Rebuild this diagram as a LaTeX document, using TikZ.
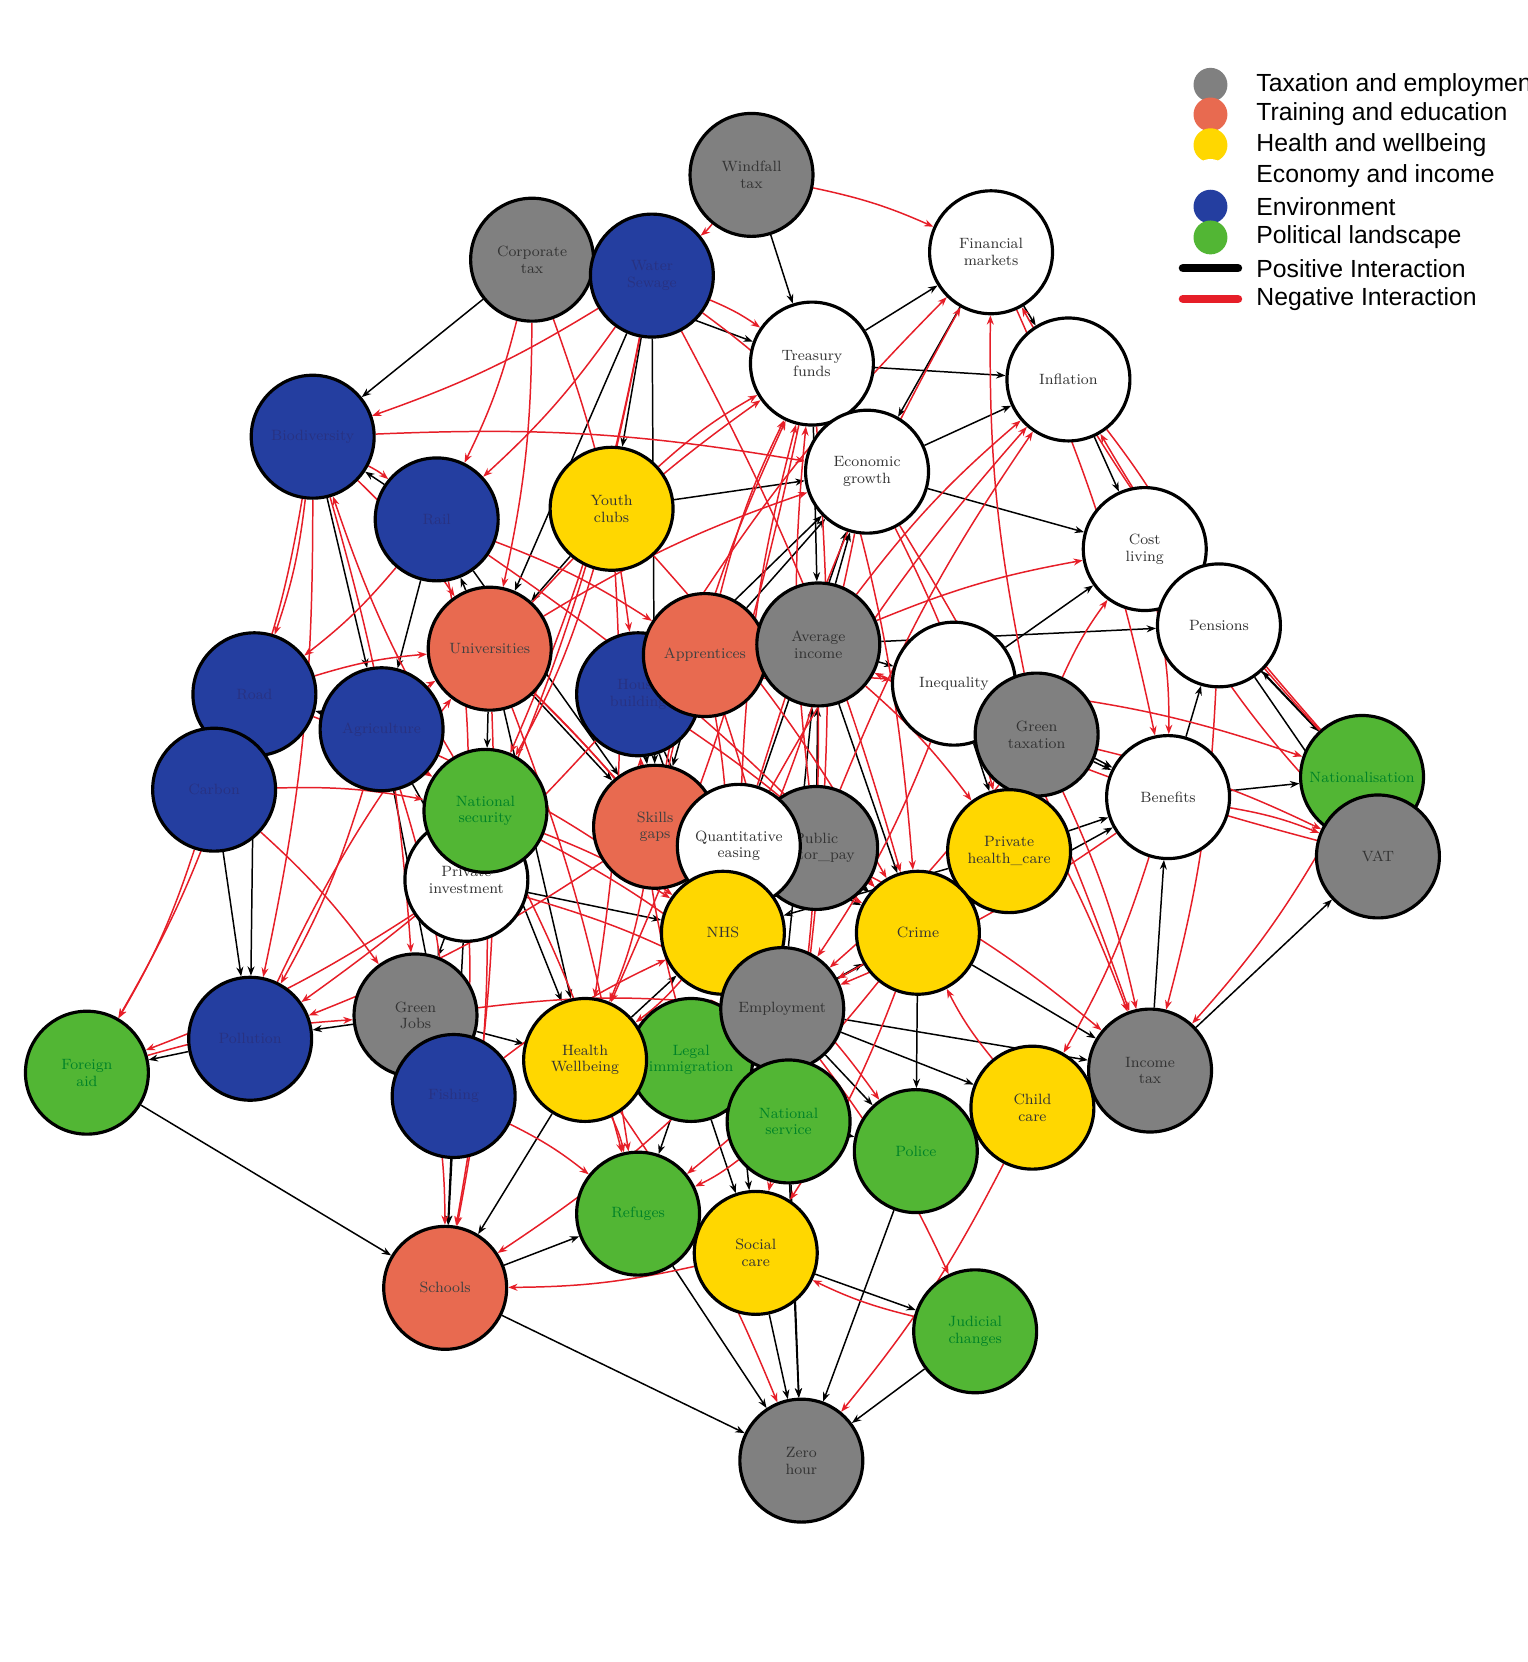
\documentclass[tikz,border=0pt]{standalone}
\usepackage{fontspec}
\setsansfont{Liberation Sans}
\usetikzlibrary{arrows.meta,backgrounds}
\definecolor{cgray}{RGB}{128,128,128}
\definecolor{csalmon}{RGB}{232,106,80}
\definecolor{cyellow}{RGB}{255,215,0}
\definecolor{cblue}{RGB}{36,62,160}
\definecolor{cgreen}{RGB}{82,182,52}
\definecolor{tblue}{RGB}{40,50,130}
\definecolor{tgreen}{RGB}{0,130,40}
\definecolor{cred}{RGB}{230,30,40}
\begin{document}
\begin{tikzpicture}[x=0.02cm,y=-0.02cm,
 nd/.style={circle,draw=black,line width=1.7pt,minimum size=2.32cm,inner sep=0pt,align=center,font=\fontsize{8}{9}\selectfont},
 tx/.style={nd,fill=cgray,text=black!80},
 tr/.style={nd,fill=csalmon,text=black!75},
 he/.style={nd,fill=cyellow,text=black!80},
 ec/.style={nd,fill=white,text=black!80},
 en/.style={nd,fill=cblue,text=tblue},
 po/.style={nd,fill=cgreen,text=tgreen},
 pe/.style={draw=black,line width=0.8pt,-{Stealth[length=5pt]}},
 ne/.style={draw=cred,line width=0.8pt,-{Stealth[length=5pt]}},
 lg/.style={font=\sffamily\fontsize{13.3}{14}\selectfont,anchor=west,inner sep=0pt},
 ld/.style={circle,minimum size=0.64cm,inner sep=0pt}]
\useasboundingbox (0,0) rectangle (1441,1568);
\clip (0,0) rectangle (1441,1568);
\node[tx] (wt) at (709,165) {Windfall\\tax};
\node[tx] (ct) at (502,245) {Corporate\\tax};
\node[en] (ws) at (615,260) {Water\\Sewage};
\node[ec] (fm) at (935,238) {Financial\\markets};
\node[ec] (tf) at (766,343) {Treasury\\funds};
\node[ec] (inf) at (1008,358) {Inflation};
\node[en] (bio) at (295,412) {Biodiversity};
\node[ec] (eg) at (818,445) {Economic\\growth};
\node[he] (yc) at (577,480) {Youth\\clubs};
\node[en] (rail) at (412,490) {Rail};
\node[ec] (cl) at (1080,518) {Cost\\living};
\node[ec] (pen) at (1150,590) {Pensions};
\node[tr] (uni) at (462,612) {Universities};
\node[en] (hb) at (602,655) {House\\building};
\node[tr] (app) at (665,618) {Apprentices};
\node[tx] (ai) at (772,608) {Average\\income};
\node[ec] (ineq) at (900,645) {Inequality};
\node[tx] (gt) at (978,693) {Green\\taxation};
\node[en] (road) at (240,655) {Road};
\node[en] (agr) at (360,688) {Agriculture};
\node[en] (carb) at (202,745) {Carbon};
\node[ec] (ben) at (1102,752) {Benefits};
\node[po] (nat) at (1285,733) {Nationalisation};
\node[tx] (vat) at (1300,808) {VAT};
\node[ec] (pi) at (440,830) {Private\\investment};
\node[po] (ns) at (458,765) {National\\security};
\node[tr] (sg) at (618,780) {Skills\\gaps};
\node[tx] (psp) at (770,800) {Public\\sector\_pay};
\node[ec] (qe) at (697,798) {Quantitative\\easing};
\node[he] (phc) at (952,803) {Private\\health\_care};
\node[he] (nhs) at (682,880) {NHS};
\node[he] (crime) at (866,880) {Crime};
\node[tx] (gj) at (392,958) {Green\\Jobs};
\node[en] (poll) at (236,980) {Pollution};
\node[po] (fa) at (82,1012) {Foreign\\aid};
\node[po] (li) at (652,1000) {Legal\\immigration};
\node[tx] (emp) at (738,952) {Employment};
\node[he] (hw) at (552,1000) {Health\\Wellbeing};
\node[en] (fish) at (428,1034) {Fishing};
\node[tx] (it) at (1085,1010) {Income\\tax};
\node[po] (nserv) at (744,1058) {National\\service};
\node[po] (pol) at (864,1086) {Police};
\node[he] (cc) at (974,1045) {Child\\care};
\node[po] (ref) at (602,1145) {Refuges};
\node[he] (sc) at (713,1182) {Social\\care};
\node[tr] (sch) at (420,1215) {Schools};
\node[po] (jc) at (920,1256) {Judicial\\changes};
\node[tx] (zh) at (756,1378) {Zero\\hour};
\begin{scope}[on background layer]
\foreach \a/\b in {wt/tf,ct/bio,tf/fm,tf/eg,fm/inf,inf/cl,cl/pen,eg/cl,eg/inf,tf/inf,ai/eg,ineq/cl,ai/ineq,ben/pen,ben/nat,it/vat,nat/pen,gt/ineq,emp/ai,emp/nhs,emp/crime,emp/cc,emp/it,emp/zh,sc/zh,ref/zh,nserv/zh,pol/zh,jc/zh,sch/zh,fish/sch,hw/sch,li/ref,hw/nhs,gj/poll,poll/fa,carb/road,agr/road,rail/bio,uni/rail,uni/sg,sg/nhs,qe/psp,qe/eg,psp/ai,pi/gj,ns/pi,yc/eg,yc/uni,ws/yc,ws/uni,hb/eg,app/ai,app/eg,crime/pol,phc/nhs,phc/ben,cc/it,it/ben,gt/ben,pol/cc,sc/jc,fish/gj,hw/li,li/emp,nserv/pol,gj/hw,agr/pi,carb/poll,bio/agr,rail/agr,road/poll,ineq/ben,pen/vat,cl/nat,fm/eg,tf/ai,ai/pen,emp/ben,crime/it,sc/ref,sch/ref,nhs/sc,pi/sch,fa/sch,ws/sg,ct/tf,rail/sg,hb/nhs,uni/hw,agr/fish,sg/emp,ns/hw,pi/nhs,hb/emp,qe/crime,psp/crime,nhs/nserv,emp/pol,li/sc,ineq/phc,gt/phc,ai/crime,sg/qe,hb/sg,uni/ns,app/sg}
  \draw[pe] (\a) -- (\b);
\foreach \a/\b in {wt/ws,wt/fm,ws/tf,ws/bio,ws/rail,ws/eg,ct/rail,ct/uni,bio/road,bio/carb,bio/poll,bio/uni,bio/gj,rail/road,rail/pi,rail/app,road/fa,carb/fa,carb/gj,agr/uni,agr/poll,agr/fish,uni/tf,uni/eg,uni/nhs,uni/sch,yc/tf,yc/crime,yc/hw,hb/ineq,hb/poll,hb/fm,app/tf,app/emp,ai/inf,ai/cl,ai/phc,ineq/nat,gt/it,gt/cl,gt/vat,gt/fm,ben/cc,nat/it,nat/inf,nat/fm,vat/cl,vat/ai,phc/crime,crime/ref,crime/sc,nhs/hw,nhs/pol,qe/inf,qe/tf,qe/fm,psp/tf,psp/inf,psp/it,sg/app,sg/tf,sg/poll,ns/ref,ns/bio,ns/nhs,pi/fish,pi/fa,gj/sch,gj/emp,fish/ref,fish/nhs,hw/ref,hw/zh,li/nserv,li/hb,emp/jc,emp/sch,nserv/ref,cc/pol,cc/zh,it/pol,sc/sch,jc/sc,poll/uni,eg/it,eg/phc,inf/pen,fm/ben,cl/ben,tf/hw,tf/crime,ws/ns,ct/hb,bio/eg,road/ns,fa/gj,road/uni,carb/ns,bio/rail,yc/ns,ws/pi,ineq/it,pen/it,ben/vat,sg/crime,qe/nhs,psp/nhs,ns/emp,pi/emp,hb/crime,app/nhs,sg/hw,uni/emp,agr/nhs,rail/crime,ws/crime,eg/nhs,ineq/emp,gt/emp,ben/emp,phc/emp,cc/crime,tf/nserv,ai/sc,uni/ref,ns/sch}
  \draw[ne] (\a) to[bend left=6] (\b);
\end{scope}
% legend
\node[ld,fill=cgray] (l1) at (1142,80) {};
\node[ld,fill=csalmon] (l2) at (1142,108) {};
\node[ld,fill=cyellow] (l3) at (1142,137) {};
\node[ld,fill=white] (l4) at (1142,166) {};
\node[ld,fill=cblue] (l5) at (1142,195) {};
\node[ld,fill=cgreen] (l6) at (1142,224) {};
\coordinate (p1) at (1116,253); \coordinate (p2) at (1168,253);
\coordinate (q1) at (1116,282); \coordinate (q2) at (1168,282);
\draw[line width=4.5pt,line cap=round] (p1) -- (p2);
\draw[line width=4.5pt,line cap=round,cred] (q1) -- (q2);
\node[lg] (t1) at (1185,80) {Taxation and employment};
\node[lg] (t2) at (1185,108) {Training and education};
\node[lg] (t3) at (1185,137) {Health and wellbeing};
\node[lg] (t4) at (1185,166) {Economy and income};
\node[lg] (t5) at (1185,195) {Environment};
\node[lg] (t6) at (1185,224) {Political landscape};
\node[lg] (t7) at (1185,253) {Positive Interaction};
\node[lg] (t8) at (1185,282) {Negative Interaction};
\end{tikzpicture}
\end{document}
